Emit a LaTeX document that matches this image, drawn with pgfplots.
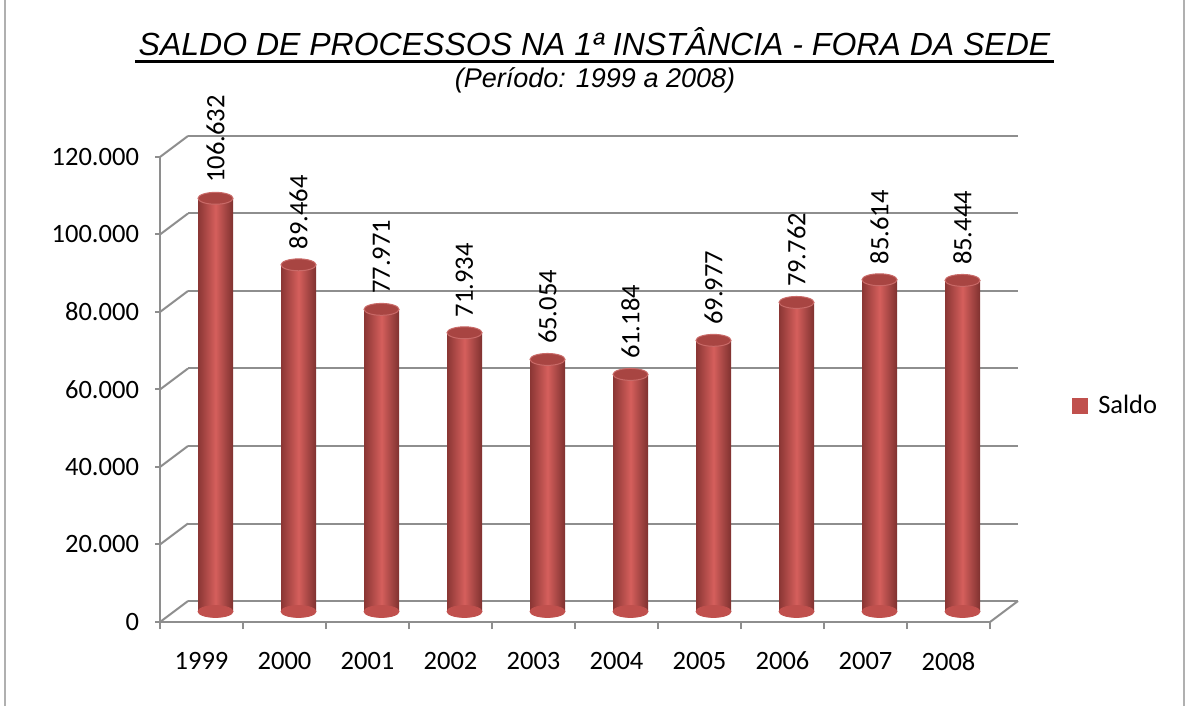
\documentclass[border=0pt]{standalone}
\usepackage{fontspec}
\setmainfont{Carlito}
\newfontfamily\titlefont{Liberation Sans}
\usepackage{graphicx}
\usepackage{pgfplots}
\pgfplotsset{compat=1.18}
\usepackage{pgfplotstable}

\definecolor{barred}{HTML}{C0504D}
\definecolor{bardark}{HTML}{8A3634}
\definecolor{barlight}{HTML}{D55F5C}
\definecolor{bartop}{HTML}{A84542}
\definecolor{gridgray}{HTML}{8E8E8E}

\pgfplotstableread{
x val
0 106632
1 89464
2 77971
3 71934
4 65054
5 61184
6 69977
7 79762
8 85614
9 85444
}\saldo

\pgfplotsset{
  base/.style={
    scale only axis, width=415pt, height=232.5pt,
    xmin=-0.5, xmax=9.5, ymin=0, ymax=120000,
    anchor=south west, clip=false, scaled y ticks=false, scaled x ticks=false,
  },
  cyl/.style={ybar, bar width=17.5pt, bar shift=0pt, draw=none, forget plot,
    left color=bardark, right color=bardark!92!black, middle color=barlight},
}

\begin{document}
\begin{tikzpicture}
\path[use as bounding box] (0,0) rectangle (593pt,353pt);
\draw[gridgray!70, line width=1pt] (2.5pt,0) -- (2.5pt,353pt);
\draw[gridgray!70, line width=1pt] (592pt,0) -- (592pt,353pt);

% title
\node[anchor=base, inner sep=0pt] at (297.25pt,325pt)
  {\titlefont\fontsize{16}{19}\selectfont\itshape SALDO DE PROCESSOS NA 1ª INSTÂNCIA - FORA DA SEDE};
\draw[line width=1.5pt] (67.5pt,322.25pt) -- (527pt,322.25pt);
\node[anchor=base, inner sep=0pt] at (297.5pt,309pt)
  {\titlefont\fontsize{13.5}{16}\selectfont\itshape (Período: 1999 a 2008)};

% back wall
\begin{axis}[base, at={(94pt,52.5pt)},
  axis line style={draw=none}, xtick=\empty,
  ytick={0,20000,...,120000}, yticklabels={}, major tick length=0pt,
  ymajorgrids, grid style={gridgray, line width=1pt}]
\addplot[draw=none] coordinates {(0,0)};
\end{axis}

% front axes
\begin{axis}[base, at={(80pt,42pt)},
  axis x line*=bottom, axis y line*=left,
  axis line style={gridgray, line width=1pt},
  tick style={gridgray, line width=1pt},
  tick align=outside,
  major tick length=2.5pt, minor tick length=3.5pt,
  ytick={0,20000,...,120000},
  yticklabel={\pgfmathprintnumber[fixed, precision=0, 1000 sep={.}, assume math mode=true]{\tick}},
  yticklabel style={font=\fontsize{13.25}{16}\selectfont, xshift=-4.5pt},
  xtick={0,...,9},
  xticklabels={1999,2000,2001,2002,2003,2004,2005,2006,2007,2008},
  major x tick style={draw=none},
  minor xtick={-0.5,0.5,...,9.5},
  xticklabel style={font=\fontsize{13.25}{16}\selectfont, yshift=-9pt},
]
\addplot[draw=none] coordinates {(0,0)};
\pgfplotsinvokeforeach{0,20000,40000,60000,80000,100000,120000}{
  \draw[gridgray, line width=1pt] (axis cs:-0.5,#1) -- ++(14pt,10.5pt);
}
\draw[gridgray, line width=1pt] (axis cs:9.5,0) -- ++(14pt,10.5pt);
\end{axis}

% bars
\begin{axis}[base, at={(87pt,47.25pt)}, hide axis,
  legend style={at={(1.082,0.442)}, anchor=west, draw=none, fill=none,
    inner sep=0pt, font=\fontsize{13.25}{16}\selectfont,
    /tikz/every odd column/.append style={column sep=3pt}},
]
% bottom caps
\addplot[forget plot, only marks, color=barred, mark=*, mark size=8.75pt,
  mark options={yscale=0.34, draw=barred, fill=barred}]
  coordinates {(0,0) (1,0) (2,0) (3,0) (4,0) (5,0) (6,0) (7,0) (8,0) (9,0)};
% cylinders
\addplot[cyl] coordinates {(0,106632)};
\addplot[cyl] coordinates {(1,89464)};
\addplot[cyl] coordinates {(2,77971)};
\addplot[cyl] coordinates {(3,71934)};
\addplot[cyl] coordinates {(4,65054)};
\addplot[cyl] coordinates {(5,61184)};
\addplot[cyl] coordinates {(6,69977)};
\addplot[cyl] coordinates {(7,79762)};
\addplot[cyl] coordinates {(8,85614)};
\addplot[cyl] coordinates {(9,85444)};
% legend entry
\addlegendimage{legend image code/.code={\fill[barred] (0pt,-3.75pt) rectangle (7.5pt,3.75pt);}}
\addlegendentry{Saldo}
% top caps + labels
\addplot[forget plot, only marks, color=bartop, mark=*, mark size=8.75pt,
  mark options={yscale=0.34, draw=barred!85!white, line width=0.5pt, fill=bartop},
  nodes near coords={\pgfmathprintnumber[fixed, precision=0, 1000 sep={.}, assume math mode=true]{\pgfplotspointmeta}},
  every node near coord/.append style={rotate=90, anchor=west, inner xsep=7.5pt, inner ysep=0pt,
    font=\fontsize{13.25}{16}\selectfont, text=black}]
  table[x=x,y=val]{\saldo};
\end{axis}
\end{tikzpicture}
\end{document}
